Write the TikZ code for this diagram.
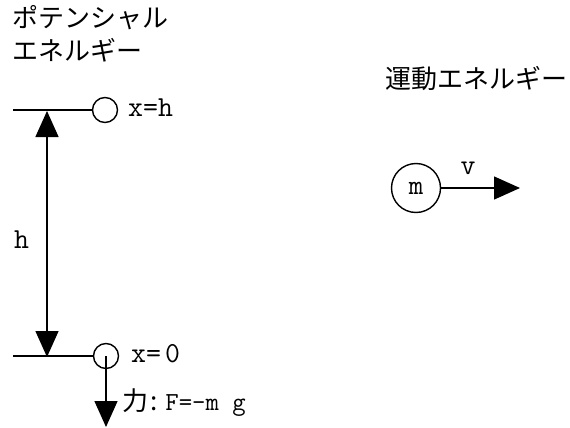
\documentclass[tikz,border=0pt]{standalone}
\usepackage{fontspec}
\usetikzlibrary{arrows.meta}
\newfontfamily\jpf{Noto Sans CJK JP}
\begin{document}
\begin{tikzpicture}[x=1pt,y=-1pt,
  ln/.style={line width=1.4pt},
  arr/.style={line width=1.4pt,-{Triangle[length=26pt,width=23pt]}},
  darr/.style={line width=1.4pt,{Triangle[length=26pt,width=23pt]}-{Triangle[length=26pt,width=23pt]}},
  ball/.style={circle,draw,line width=1.4pt,minimum size=25pt,inner sep=0pt},
  jtxt/.style={font=\jpf\fontsize{26}{32}\selectfont,inner sep=0pt,align=left},
  mtxt/.style={font=\ttfamily\fontsize{29}{30}\selectfont,inner sep=0pt}]
\useasboundingbox (0,0) rectangle (570,428);
\node[jtxt,anchor=west] (pe) at (12,18) {ポテンシャル};
\node[jtxt,anchor=west] (pe2) at (12,50) {エネルギー};
\node[jtxt,anchor=west] (ke) at (385,79) {運動エネルギー};
% top level
\coordinate (tl) at (13,110);
\node[ball] (top) at (105,110) {};
\draw[ln] (tl) -- (top.west);
\node[mtxt,anchor=base west] (xh) at (128,116) {x=h};
% bottom level
\coordinate (bl) at (13,356);
\node[ball] (bot) at (106,356) {};
\draw[ln] (bl) -- (bot.west);
\node[mtxt,anchor=base west] (x0) at (131,362) {x=\hspace{4pt}0};
% height arrow
\coordinate (ht) at (47,111);
\coordinate (hb) at (47,357);
\draw[darr] (hb) -- (ht);
\node[mtxt,anchor=base west] (h) at (14,248) {h};
% force
\coordinate (ft) at (106,427);
\draw[arr] (bot.center) -- (ft);
\node[anchor=base west,inner sep=0pt] (f) at (122,410) {{\jpf\fontsize{26}{30}\selectfont 力\hspace{2pt}:}\hspace{8pt}{\ttfamily\fontsize{26}{30}\selectfont F=-m g}};
% kinetic
\node[ball,minimum size=49pt] (m) at (416,188) {\ttfamily\fontsize{28}{28}\selectfont m};
\coordinate (vt) at (520,188);
\draw[arr] (m.east) -- (vt);
\node[mtxt,anchor=base] (v) at (468,174) {v};
\end{tikzpicture}
\end{document}
